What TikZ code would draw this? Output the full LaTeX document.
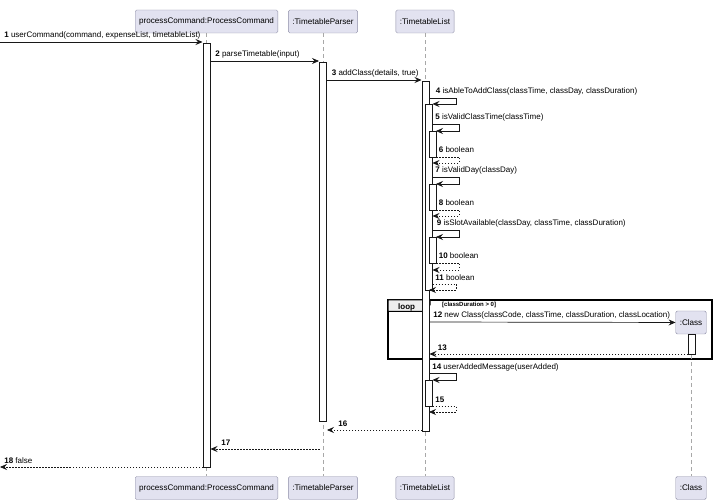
\documentclass[tikz,border=0pt]{standalone}
\usepackage{fontspec}
\setmainfont{Liberation Sans}
\usetikzlibrary{arrows.meta}

\definecolor{partfill}{HTML}{E2E2F0}
\definecolor{partline}{HTML}{8E8EA6}
\definecolor{lifegray}{HTML}{A8A8A8}
\definecolor{ink}{HTML}{181818}
\definecolor{tabfill}{HTML}{EEEEEE}

\tikzset{
    part/.style={rectangle, draw=partline, fill=partfill, rounded corners=1.5pt,
        minimum height=23pt, inner xsep=4pt, font=\fontsize{8.1}{10}\selectfont},
    life/.style={draw=lifegray, dash pattern=on 4pt off 3pt, line width=0.6pt},
    actbar/.style={draw=ink, fill=white, line width=0.8pt},
    msg/.style={draw=ink, line width=0.7pt, -{Stealth[length=7pt,width=6pt,inset=2.5pt]}},
    ret/.style={msg, dash pattern=on 1.5pt off 1.5pt},
    lbl/.style={font=\fontsize{8}{9}\selectfont, anchor=base west, inner sep=0pt, yshift=4pt}
}

\begin{document}
\begin{tikzpicture}[x=1pt, y=-1pt]
    \useasboundingbox (0,0) rectangle (716,500);

    \node[part] (pctop) at (206.5,21.5) {processCommand:ProcessCommand};
    \node[part] (parsertop) at (323,21.5) {:TimetableParser};
    \node[part] (listtop) at (425,21.5) {:TimetableList};
    \node[part] (pcbot) at (206.5,488) {processCommand:ProcessCommand};
    \node[part] (parserbot) at (323,488) {:TimetableParser};
    \node[part] (listbot) at (425,488) {:TimetableList};
    \node[part] (classbot) at (691,488) {:Class};

    \draw[life] (pctop) -- (pcbot);
    \draw[life] (parsertop) -- (parserbot);
    \draw[life] (listtop) -- (listbot);

    % loop frame
    \draw[line width=1.2pt] (388,300) rectangle (712,359);
    \draw[line width=1pt, fill=tabfill] (388,300) -- (430,300) -- (430,305) -- (424,311.5) -- (388,311.5) -- cycle;
    \node[font=\bfseries\fontsize{8}{9}\selectfont, anchor=base west, inner sep=0pt] (looplbl) at (398,309) {loop};
    \node[font=\bfseries\fontsize{6}{7}\selectfont, anchor=base west, inner sep=0pt] (guard) at (442,307) {[classDuration > 0]};

    \node[part] (classtop) at (691,322.5) {:Class};
    \draw[life] (classtop) -- (classbot);

    % activations
    \draw[actbar] (203,43) rectangle (210,467);
    \draw[actbar] (319.5,62) rectangle (326.5,421);
    \draw[actbar] (422,81) rectangle (429,431);
    \draw[actbar] (425.5,104) rectangle (432.5,290);
    \draw[actbar] (429,131) rectangle (436,157);
    \draw[actbar] (429,184) rectangle (436,210);
    \draw[actbar] (429,237) rectangle (436,263);
    \draw[actbar] (688,334) rectangle (695,354);
    \draw[actbar] (425.5,380) rectangle (432.5,406);

    \coordinate (m1s) at (0,42);       \coordinate (m1e) at (202.5,42);
    \coordinate (m2s) at (210,61);     \coordinate (m2e) at (319,61);
    \coordinate (m3s) at (326.5,80);   \coordinate (m3e) at (421.5,80);
    \coordinate (m4s) at (429,98);     \coordinate (m4e) at (432.5,104);
    \coordinate (m5s) at (432.5,124);  \coordinate (m5e) at (436,131);
    \coordinate (m6s) at (436,157);    \coordinate (m6e) at (432.5,163);
    \coordinate (m7s) at (432.5,177);  \coordinate (m7e) at (436,184);
    \coordinate (m8s) at (436,210);    \coordinate (m8e) at (432.5,216);
    \coordinate (m9s) at (432.5,230);  \coordinate (m9e) at (436,237);
    \coordinate (m10s) at (436,263);   \coordinate (m10e) at (432.5,270);
    \coordinate (m11s) at (432.5,284); \coordinate (m11e) at (429,290);
    \coordinate (m12s) at (429,322);
    \coordinate (m13s) at (688,354);   \coordinate (m13e) at (429.5,354);
    \coordinate (m14s) at (429,373);   \coordinate (m14e) at (432.5,380);
    \coordinate (m15s) at (432.5,406); \coordinate (m15e) at (429,412);
    \coordinate (m16s) at (422,430);   \coordinate (m16e) at (327,430);
    \coordinate (m17s) at (319.5,449); \coordinate (m17e) at (210.5,449);
    \coordinate (m18s) at (203,467);   \coordinate (m18e) at (0,467);

    \draw[msg] (m1s) node[lbl, xshift=4pt] {\textbf{1} userCommand(command, expenseList, timetableList)} -- (m1e);
    \draw[msg] (m2s) node[lbl, xshift=5pt] {\textbf{2} parseTimetable(input)} -- (m2e);
    \draw[msg] (m3s) node[lbl, xshift=5pt] {\textbf{3} addClass(details, true)} -- (m3e);
    \draw[msg] (m4s) node[lbl, xshift=6.5pt] {\textbf{4} isAbleToAddClass(classTime, classDay, classDuration)} -- ++(27,0) |- (m4e);
    \draw[msg] (m5s) node[lbl, xshift=2.5pt] {\textbf{5} isValidClassTime(classTime)} -- ++(26.5,0) |- (m5e);
    \draw[ret] (m6s) node[lbl, xshift=2.5pt] {\textbf{6} boolean} -- ++(23,0) |- (m6e);
    \draw[msg] (m7s) node[lbl, xshift=2.5pt] {\textbf{7} isValidDay(classDay)} -- ++(26.5,0) |- (m7e);
    \draw[ret] (m8s) node[lbl, xshift=2.5pt] {\textbf{8} boolean} -- ++(23,0) |- (m8e);
    \draw[msg] (m9s) node[lbl, xshift=4pt] {\textbf{9} isSlotAvailable(classDay, classTime, classDuration)} -- ++(26.5,0) |- (m9e);
    \draw[ret] (m10s) node[lbl, xshift=2.5pt] {\textbf{10} boolean} -- ++(23,0) |- (m10e);
    \draw[ret] (m11s) node[lbl, xshift=2.5pt] {\textbf{11} boolean} -- ++(23.5,0) |- (m11e);
    \draw[msg] (m12s) node[lbl, xshift=4pt] {\textbf{12} new Class(classCode, classTime, classDuration, classLocation)} -- (classtop);
    \draw[ret] (m13s) -- (m13e) node[lbl, at end, xshift=8pt] {\textbf{13}};
    \draw[msg] (m14s) node[lbl, xshift=3pt] {\textbf{14} userAddedMessage(userAdded)} -- ++(27,0) |- (m14e);
    \draw[ret] (m15s) node[lbl, xshift=2.5pt] {\textbf{15}} -- ++(23.5,0) |- (m15e);
    \draw[ret] (m16s) -- (m16e) node[lbl, at end, xshift=11pt] {\textbf{16}};
    \draw[ret] (m17s) -- (m17e) node[lbl, at end, xshift=10.5pt] {\textbf{17}};
    \draw[ret] (m18s) -- (m18e) node[lbl, at end, xshift=4pt] {\textbf{18} false};
\end{tikzpicture}
\end{document}
